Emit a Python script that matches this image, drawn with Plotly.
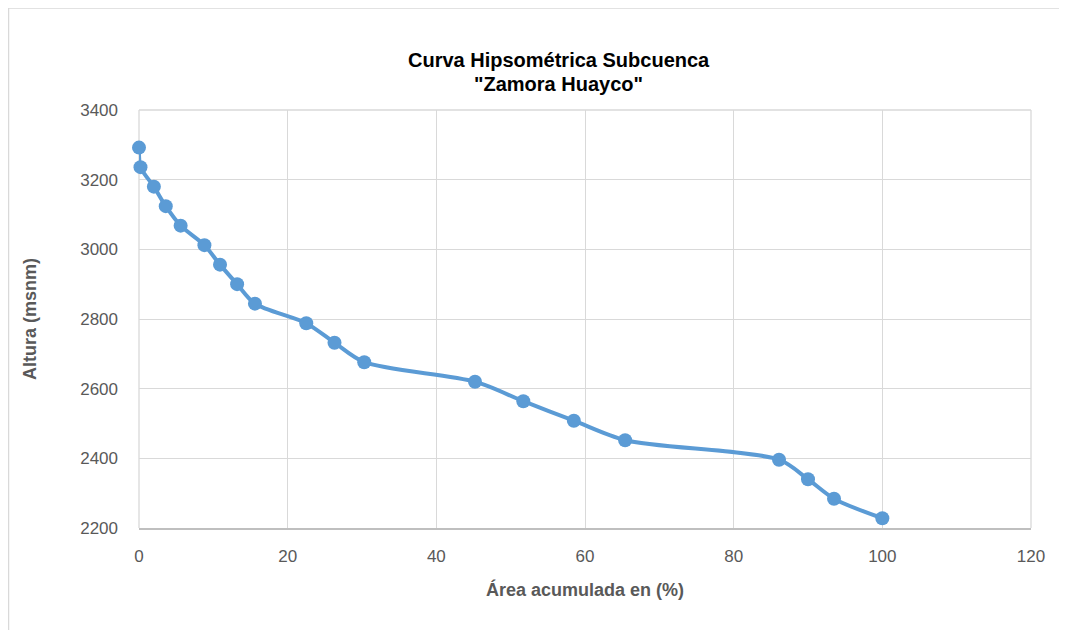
import plotly.graph_objects as go

area_pct = [0.0, 0.2, 2.0, 3.6, 5.6, 8.8, 10.9, 13.2, 15.6, 22.5, 26.3, 30.3,
            45.2, 51.7, 58.5, 65.4, 86.1, 90.0, 93.5, 100.0]
altura = [3292, 3236, 3180, 3124, 3068, 3012, 2956, 2900, 2844, 2788, 2732, 2676,
          2620, 2564, 2508, 2452, 2396, 2340, 2284, 2228]

title_line1 = "Curva Hipsométrica Subcuenca"
title_line2 = '"Zamora Huayco"'
x_title = "Área acumulada en (%)"
y_title = "Altura (msnm)"

color = "#5B9BD5"
grid = "#D9D9D9"
FONT = "Liberation Sans, Arial, sans-serif"
tick_font = dict(family=FONT, size=17, color="#595959")
axis_title_font = dict(family=FONT, size=18, color="#595959", weight="bold")
title_font = dict(family=FONT, size=20, color="black", weight="bold")

fig = go.Figure()
fig.add_trace(go.Scatter(
    x=area_pct, y=altura, mode="lines+markers",
    line=dict(color=color, width=4, shape="spline", smoothing=0.8),
    marker=dict(color=color, size=14),
    showlegend=False, cliponaxis=False,
))

# page offset (body margin) of 8 px: screen px -> figure px
OFF = 8
L, T, W, H = 139 - OFF, 110.5 - OFF, 892, 417.5
def px_x(px):
    return (px - OFF - L) / W
def px_y(py):
    return (T + H - (py - OFF)) / H

fig.update_layout(
    width=1067, height=630,
    margin=dict(l=131, r=44, t=102, b=110, pad=0),
    paper_bgcolor="white", plot_bgcolor="white",
    xaxis=dict(range=[0, 120], dtick=20, tick0=0, showgrid=True, gridcolor=grid, gridwidth=1.3,
               zeroline=False, showline=True, linecolor="#BFBFBF", linewidth=1.5,
               ticks="", tickfont=tick_font, ticklabelstandoff=12,
               title=dict(text=x_title, font=axis_title_font, standoff=18)),
    yaxis=dict(range=[2200, 3400], dtick=200, tick0=2200, showgrid=True, gridcolor=grid, gridwidth=1.3,
               zeroline=False, showline=False,
               ticks="", tickfont=tick_font, ticklabelstandoff=20,
               title=dict(text=y_title, font=axis_title_font, standoff=38)),
    annotations=[
        dict(text=title_line1, xref="paper", yref="paper", x=px_x(558.7), y=px_y(60.5),
             xanchor="center", yanchor="middle", showarrow=False, font=title_font),
        dict(text=title_line2, xref="paper", yref="paper", x=px_x(558.7), y=px_y(84.5),
             xanchor="center", yanchor="middle", showarrow=False, font=title_font),
    ],
    shapes=[
        dict(type="line", xref="paper", yref="paper",
             x0=px_x(8.5), x1=px_x(1080), y0=px_y(8.5), y1=px_y(8.5),
             line=dict(color="#D9D9D9", width=1.5)),
        dict(type="line", xref="paper", yref="paper",
             x0=px_x(8.5), x1=px_x(8.5), y0=px_y(8.5), y1=px_y(650),
             line=dict(color="#D9D9D9", width=1.5)),
        dict(type="line", xref="paper", yref="paper",
             x0=0, x1=0, y0=0, y1=1, line=dict(color=grid, width=1.3), layer="below"),
        dict(type="line", xref="paper", yref="paper",
             x0=1, x1=1, y0=0, y1=1, line=dict(color=grid, width=1.3), layer="below"),
        dict(type="line", xref="paper", yref="paper",
             x0=0, x1=1, y0=1, y1=1, line=dict(color=grid, width=1.3), layer="below"),
    ],
)

fig.write_html("out.html")
